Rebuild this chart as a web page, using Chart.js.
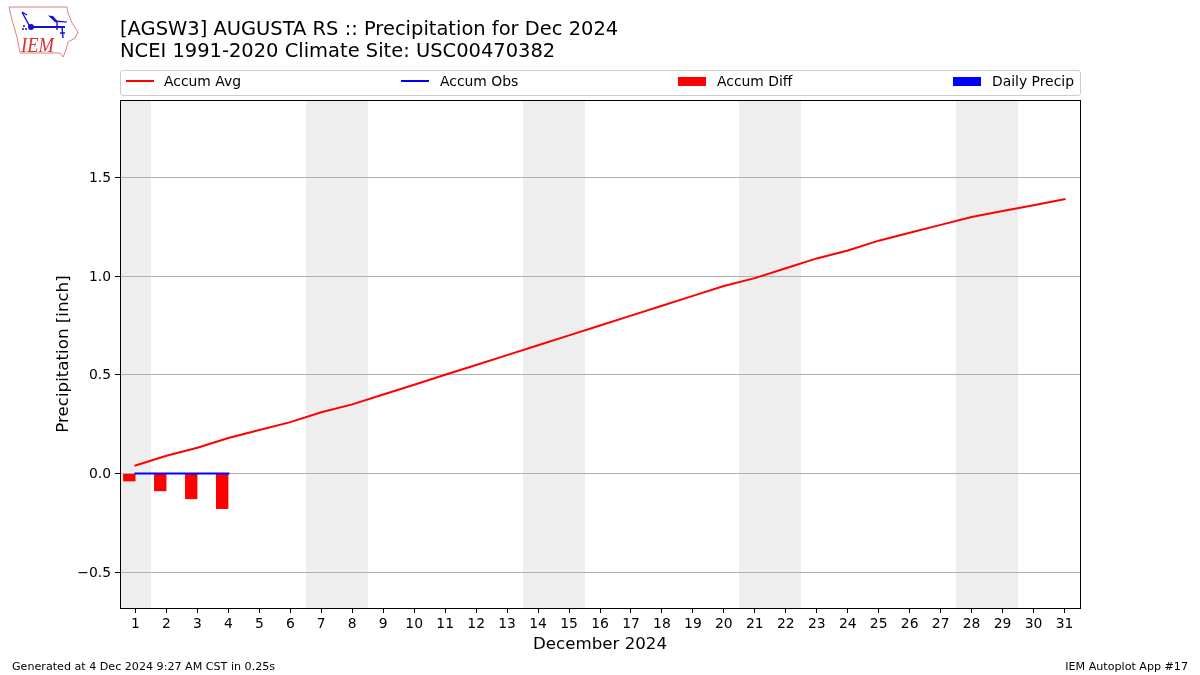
<!DOCTYPE html>
<html>
<head>
<meta charset="utf-8">
<title>Precipitation for Dec 2024</title>
<script src="https://cdn.jsdelivr.net/npm/chart.js@4"></script>
<style>
  html, body { margin: 0; padding: 0; background: #fff; }
  body { width: 1200px; height: 675px; overflow: hidden; position: relative; font-family: "DejaVu Sans", sans-serif; color: #000; }
  #wrap { position: absolute; left: 0; top: 0; width: 1200px; height: 675px; }
  #title { position: absolute; left: 120px; top: 18px; font-size: 19.48px; line-height: 21.8px; white-space: nowrap; }
  #legend { position: absolute; left: 120px; top: 70px; width: 959px; height: 24px; border: 1px solid #ccc; border-radius: 3px; font-size: 13.9px; }
  #legend span { position: absolute; top: 2px; white-space: nowrap; }
  #legend i { position: absolute; display: block; }
  .foot { position: absolute; top: 660px; font-size: 11.12px; white-space: nowrap; }
  #logo { position: absolute; left: 0; top: 0; }
</style>
</head>
<body>
<div id="wrap"><canvas id="chart" width="1200" height="675"></canvas></div>

<svg id="logo" width="90" height="60" viewBox="0 0 90 60">
  <path d="M9 7 L67 7 L68 13 L72 23 L78 32 L75 38 L68 42 L66 50 L63 57 L60 53 L20 53 L17 37 L12 20 Z" fill="none" stroke="#e08080" stroke-width="1"/>
  <path d="M30 27 L65 27 M30 27 L22 12 M22 12 L27 15 M57 21 L57 30 M62 27 L63 38 M60 33 L65 33" fill="none" stroke="#1010d8" stroke-width="1.4"/>
  <path d="M30 26 L65 26 L65 28 L30 28 Z M48 15.5 L53 16 L57 20.5 L67 21.5 L67 22.5 L55 22 Z" fill="#1010d8"/>
  <circle cx="31" cy="27" r="3" fill="#1010d8"/>
  <circle cx="24" cy="26" r="1" fill="#1010d8"/>
  <circle cx="23" cy="29" r="1" fill="#1010d8"/>
  <circle cx="26" cy="29" r="1" fill="#1010d8"/>
  <text x="21" y="52" font-family="Liberation Serif" font-style="italic" font-size="22" fill="#d93030" textLength="33" lengthAdjust="spacingAndGlyphs">IEM</text>
</svg>

<div id="title">[AGSW3] AUGUSTA RS :: Precipitation for Dec 2024<br>NCEI 1991-2020 Climate Site: USC00470382</div>
<div id="legend"></div>
<div class="foot" style="left:12px">Generated at 4 Dec 2024 9:27 AM CST in 0.25s</div>
<div class="foot" style="right:12px">IEM Autoplot App #17</div>

<script>
// Days of the month
const days = ["1","2","3","4","5","6","7","8","9","10","11","12","13","14","15","16",
  "17","18","19","20","21","22","23","24","25","26","27","28","29","30","31"];

// Weekend days get the grey bands
const weekends = ["1","7","8","14","15","21","22","28","29"];

const accumAvg = [0.04,0.09,0.13,0.18,0.22,0.26,0.31,0.35,0.40,0.45,0.50,0.55,0.60,0.65,0.70,0.75,
  0.80,0.85,0.90,0.95,0.99,1.04,1.09,1.13,1.18,1.22,1.26,1.30,1.33,1.36,1.39];
const accumObs = [0,0,0,0];
const accumDiff = [-0.04,-0.09,-0.13,-0.18];
const dailyPrecip = [0,0,0,0];

const yTicks = [-0.5,0,0.5,1.0,1.5];

// Legend, laid out in expanded mode like the original
const legendItems = [
  { label: "Accum Avg", color: "#ff0000", line: true, x: 5, textX: 43 },
  { label: "Accum Obs", color: "#0000ff", line: true, x: 280, textX: 319 },
  { label: "Accum Diff", color: "#ff0000", line: false, x: 557, textX: 596 },
  { label: "Daily Precip", color: "#0000ff", line: false, x: 832, textX: 871 },
];
const legendEl = document.getElementById("legend");
legendItems.forEach(function (item) {
  const mark = document.createElement("i");
  mark.style.left = item.x + "px";
  mark.style.width = "28px";
  mark.style.top = item.line ? "9px" : "6px";
  mark.style.height = item.line ? "2px" : "9px";
  mark.style.background = item.color;
  legendEl.appendChild(mark);
  const text = document.createElement("span");
  text.style.left = item.textX + "px";
  text.textContent = item.label;
  legendEl.appendChild(text);
});

// Grey weekend bands under the grid
const weekendBands = {
  id: "weekendBands",
  beforeDraw(chart) {
    const { ctx, chartArea, scales } = chart;
    const half = (scales.x.getPixelForValue(1) - scales.x.getPixelForValue(0)) / 2;
    ctx.save();
    ctx.fillStyle = "#eeeeee";
    weekends.forEach(function (d) {
      const px = scales.x.getPixelForValue(days.indexOf(d));
      // whole pixels so two neighbouring days leave no seam
      const left = Math.round(px - half);
      const right = Math.round(px + half);
      ctx.fillRect(left, chartArea.top, right - left, chartArea.bottom - chartArea.top);
    });
    ctx.restore();
  },
};

// Black frame round the plot area
const frame = {
  id: "frame",
  afterDraw(chart) {
    const { ctx, chartArea } = chart;
    ctx.save();
    ctx.strokeStyle = "#000000";
    ctx.lineWidth = 1;
    ctx.strokeRect(chartArea.left + 0.5, chartArea.top + 0.5,
      chartArea.right - chartArea.left, chartArea.bottom - chartArea.top);
    ctx.restore();
  },
};

const ctx = document.getElementById("chart").getContext("2d");
window.chart = new Chart(ctx, {
  type: "bar",
  data: {
    labels: days,
    datasets: [
      {
        type: "line",
        label: "Accum Avg",
        data: accumAvg,
        borderColor: "#ff0000",
        borderWidth: 2,
        borderCapStyle: "square",
        pointRadius: 0,
        tension: 0,
        order: 2,
      },
      {
        type: "line",
        label: "Accum Obs",
        data: accumObs,
        borderColor: "#0000ff",
        borderWidth: 2,
        borderCapStyle: "square",
        pointRadius: 0,
        tension: 0,
        order: 1,
      },
      {
        label: "Accum Diff",
        data: accumDiff,
        backgroundColor: "#ff0000",
        categoryPercentage: 0.8,
        barPercentage: 1,
        order: 3,
      },
      {
        label: "Daily Precip",
        data: dailyPrecip,
        backgroundColor: "#0000ff",
        categoryPercentage: 0.8,
        barPercentage: 1,
        order: 4,
      },
    ],
  },
  options: {
    responsive: false,
    animation: false,
    devicePixelRatio: 1,
    layout: { padding: { top: 100, right: 120, left: 0, bottom: 0 } },
    scales: {
      x: {
        offset: true,
        grid: { display: true, drawOnChartArea: false, tickColor: "#000000", tickLength: 5, offset: false },
        border: { display: false },
        ticks: {
          color: "#000000",
          padding: 3,
          maxRotation: 0,
          autoSkip: false,
          font: { family: "'DejaVu Sans'", size: 13.9 },
        },
        title: {
          display: true,
          text: "December 2024",
          color: "#000000",
          font: { family: "'DejaVu Sans'", size: 16.67 },
          padding: { top: 1, bottom: 20 },
        },
        afterFit(axis) { axis.height = 67; },
      },
      y: {
        min: -0.682,
        max: 1.893,
        grid: { color: "#b0b0b0", lineWidth: 1, tickColor: "#000000", tickLength: 5 },
        border: { display: false },
        afterBuildTicks(axis) {
          axis.ticks = yTicks.map(function (v) { return { value: v }; });
        },
        ticks: {
          color: "#000000",
          padding: 4,
          labelOffset: 1,
          font: { family: "'DejaVu Sans'", size: 13.9 },
          callback(value) { return value < 0 ? "\u2212" + Math.abs(value).toFixed(1) : value.toFixed(1); },
        },
        title: {
          display: true,
          text: "Precipitation [inch]",
          color: "#000000",
          font: { family: "'DejaVu Sans'", size: 16.67 },
          padding: { top: 54, bottom: 0 },
        },
        afterFit(axis) { axis.width = 120; },
      },
    },
    plugins: {
      legend: { display: false },
      title: { display: false },
      tooltip: { enabled: false },
    },
  },
  plugins: [weekendBands, frame],
});
</script>
</body>
</html>
